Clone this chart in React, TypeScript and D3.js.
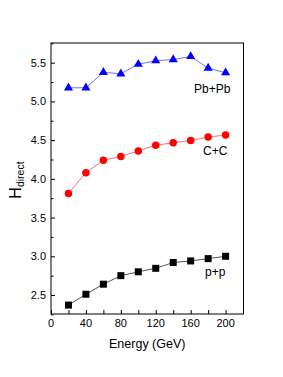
import React, { useEffect, useRef } from 'react';
import * as d3 from 'd3';

// Energy values (GeV) shared by all three systems
const energies = [20, 40, 60, 80, 100, 120, 140, 160, 180, 200];

// H_direct per system
const ppValues = [2.37, 2.51, 2.64, 2.75, 2.80, 2.845, 2.92, 2.94, 2.97, 3.0];
const ccValues = [3.81, 4.08, 4.24, 4.29, 4.36, 4.435, 4.465, 4.495, 4.54, 4.565];
const pbpbValues = [5.176, 5.176, 5.375, 5.357, 5.48, 5.525, 5.54, 5.58, 5.43, 5.37];

const xTicks = [0, 40, 80, 120, 160, 200];
const yTicks = [2.5, 3.0, 3.5, 4.0, 4.5, 5.0, 5.5];

const W = 283;
const H = 377;

const App: React.FC = () => {
  const ref = useRef<SVGSVGElement>(null);

  useEffect(() => {
    if (!ref.current) return;
    const svg = d3.select(ref.current);
    svg.selectAll('*').remove();

    const left = 51, right = 243.5, top = 43, bottom = 314;
    const font = 'Liberation Sans, Arial, sans-serif';

    const x = d3.scaleLinear().domain([0, 220.5]).range([left, right]);
    const y = d3.scaleLinear().domain([2.255, 5.754]).range([bottom, top]);

    const g = svg.append('g');

    // Frame
    g.append('rect')
      .attr('x', left).attr('y', top)
      .attr('width', right - left).attr('height', bottom - top)
      .attr('fill', 'none').attr('stroke', '#000').attr('stroke-width', 1);

    // X axis (ticks pointing in)
    const xAxis = g.append('g')
      .attr('transform', `translate(0,${bottom})`)
      .call(d3.axisBottom(x).tickValues(d3.range(0, 201, 20)).tickSize(-4).tickFormat(() => ''));
    xAxis.select('.domain').remove();
    xAxis.selectAll('line').attr('stroke', '#000');

    g.selectAll('.xlab')
      .data(xTicks)
      .join('text')
      .attr('x', d => x(d))
      .attr('y', bottom + 13)
      .attr('text-anchor', 'middle')
      .attr('font-family', font)
      .attr('font-size', 11)
      .text(d => String(d));

    // Y axis (major + minor, pointing in)
    const yAxis = g.append('g')
      .attr('transform', `translate(${left},0)`)
      .call(d3.axisLeft(y).tickValues(yTicks).tickSize(-4).tickFormat(() => ''));
    yAxis.select('.domain').remove();
    yAxis.selectAll('line').attr('stroke', '#000');
    const yMinor = g.append('g')
      .attr('transform', `translate(${left},0)`)
      .call(d3.axisLeft(y).tickValues(yTicks.map(v => v - 0.25).concat([5.75])).tickSize(-2.5).tickFormat(() => ''));
    yMinor.select('.domain').remove();
    yMinor.selectAll('line').attr('stroke', '#000');

    g.selectAll('.ylab')
      .data(yTicks)
      .join('text')
      .attr('x', left - 5)
      .attr('y', d => y(d) + 4)
      .attr('text-anchor', 'end')
      .attr('font-family', font)
      .attr('font-size', 11)
      .text(d => d.toFixed(1));

    // Axis titles
    g.append('text')
      .attr('x', (left + right) / 2)
      .attr('y', 348)
      .attr('text-anchor', 'middle')
      .attr('font-family', font)
      .attr('font-size', 12.5)
      .text('Energy (GeV)');

    const yt = g.append('text')
      .attr('transform', `translate(21,180) rotate(-90)`)
      .attr('text-anchor', 'middle')
      .attr('font-family', font);
    yt.append('tspan').attr('font-size', 16).text('H');
    yt.append('tspan').attr('font-size', 10.5).attr('dy', 3).text('direct');

    const line = d3.line<number>()
      .x((_, i) => x(energies[i]))
      .y(d => y(d));

    const series = [
      { values: ppValues, line: '#555555', fill: '#000000', shape: d3.symbolSquare, size: 49, label: 'p+p', lx: 205, ly: 276 },
      { values: ccValues, line: '#ff7070', fill: '#ff0000', shape: d3.symbolCircle, size: 44, label: 'C+C', lx: 203, ly: 155 },
      { values: pbpbValues, line: '#7070ff', fill: '#0000ff', shape: d3.symbolTriangle, size: 36, label: 'Pb+Pb', lx: 194, ly: 93 },
    ];

    series.forEach(s => {
      g.append('path')
        .datum(s.values)
        .attr('fill', 'none')
        .attr('stroke', s.line)
        .attr('stroke-width', 1)
        .attr('d', line);

      g.selectAll(null)
        .data(s.values)
        .join('path')
        .attr('transform', (d, i) => `translate(${x(energies[i])},${y(d)})`)
        .attr('d', d3.symbol().type(s.shape).size(s.size)())
        .attr('fill', s.fill);

      g.append('text')
        .attr('x', s.lx)
        .attr('y', s.ly)
        .attr('font-family', font)
        .attr('font-size', 12)
        .text(s.label);
    });
  }, []);

  return (
    <div style={{ position: 'absolute', left: 0, top: 0, background: '#fff' }}>
      <svg ref={ref} width={W} height={H} style={{ display: 'block' }} />
    </div>
  );
};

export default App;
